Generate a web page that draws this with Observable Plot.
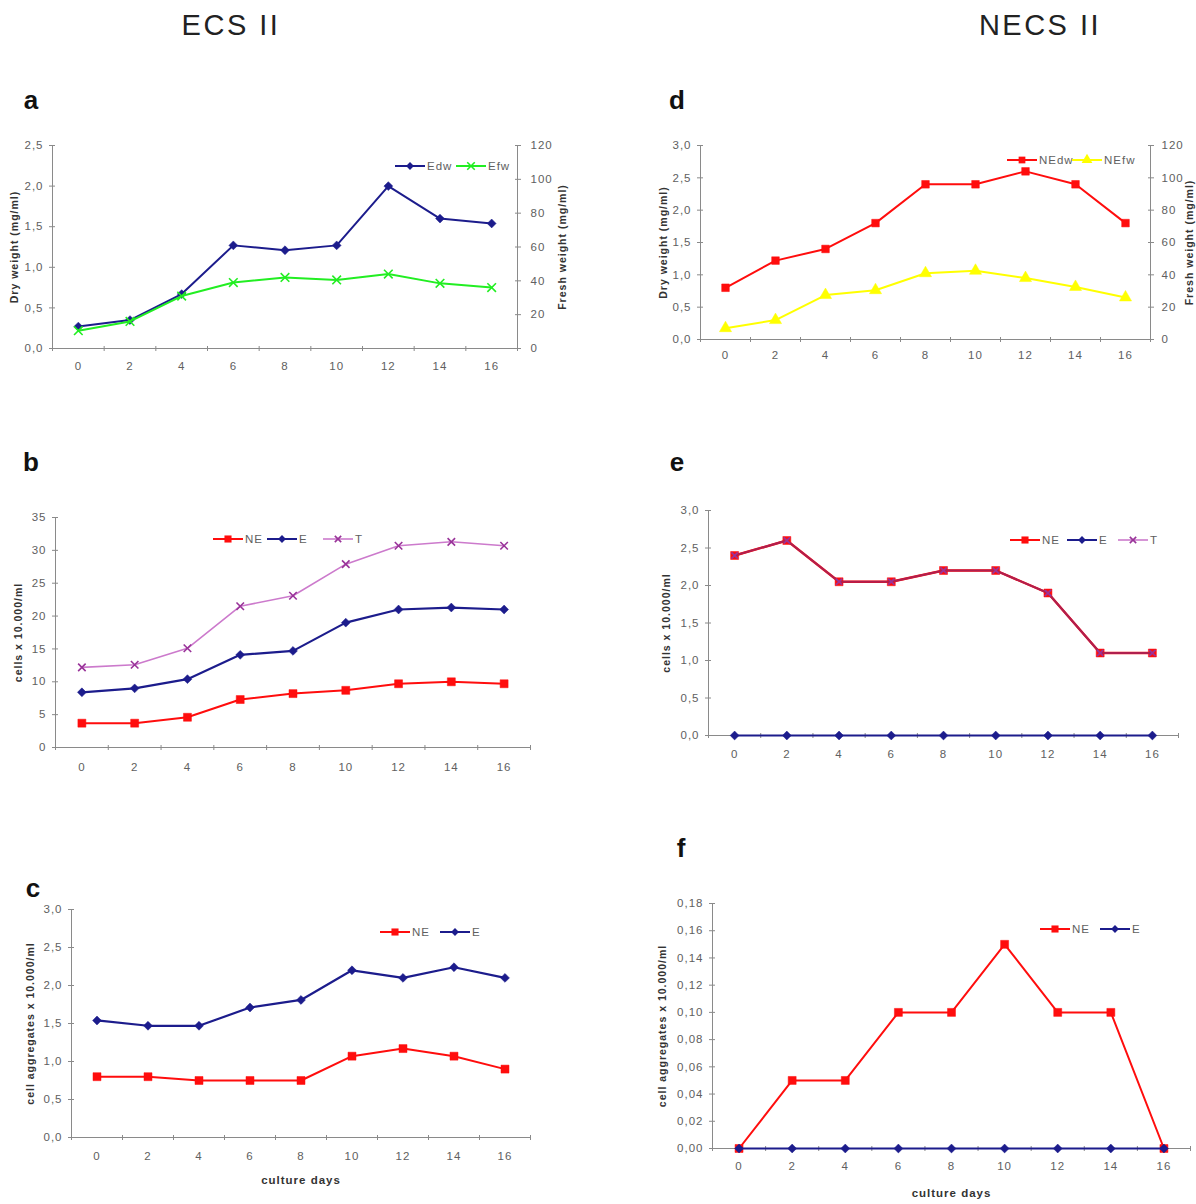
<!DOCTYPE html>
<html><head><meta charset="utf-8">
<script src="https://cdn.jsdelivr.net/npm/d3@7"></script>
<script src="https://cdn.jsdelivr.net/npm/@observablehq/plot@0.6"></script>
<style>
body{margin:0;background:#fff;}
#fig{position:relative;width:1196px;height:1204px;overflow:hidden;font-family:"Liberation Sans",Arial,sans-serif;}
.hdr{position:absolute;font-size:29px;letter-spacing:2.5px;color:#222;transform:translate(-50%,-50%);white-space:nowrap;}
.lbl{position:absolute;font-size:26px;font-weight:bold;color:#111;transform:translate(-50%,-50%);}
.pnl{position:absolute;}
.pnl svg{overflow:visible;}
.pnl text{letter-spacing:1px;}
#leg{position:absolute;left:0;top:0;}
</style></head>
<body><div id="fig"></div>
<script>
// ---------------- data ----------------
const days = [0, 2, 4, 6, 8, 10, 12, 14, 16];
const xTickMarks = [-1, 1, 3, 5, 7, 9, 11, 13, 15, 17];

// a: ECS II dry / fresh weight
const a_Edw = [0.27, 0.35, 0.67, 1.27, 1.21, 1.27, 2.0, 1.6, 1.54];
const a_Efw = [10.5, 16, 31, 39, 42, 40.5, 44, 38.5, 36];
// d: NECS II dry / fresh weight
const d_NEdw = [0.8, 1.22, 1.4, 1.8, 2.4, 2.4, 2.6, 2.4, 1.8];
const d_NEfw = [7, 12, 27.5, 30.5, 41, 42.5, 38, 32.5, 26];
// b: ECS II cells
const b_NE = [3.7, 3.7, 4.6, 7.3, 8.2, 8.7, 9.7, 10.0, 9.7];
const b_E = [8.4, 9.0, 10.4, 14.1, 14.7, 19.0, 21.0, 21.3, 21.0];
const b_T = [12.2, 12.6, 15.1, 21.5, 23.1, 27.9, 30.7, 31.3, 30.7];
// e: NECS II cells
const e_NE = [2.4, 2.6, 2.05, 2.05, 2.2, 2.2, 1.9, 1.1, 1.1];
const e_E = [0, 0, 0, 0, 0, 0, 0, 0, 0];
const e_T = [2.4, 2.6, 2.05, 2.05, 2.2, 2.2, 1.9, 1.1, 1.1];
// c: ECS II cell aggregates
const c_NE = [0.8, 0.8, 0.75, 0.75, 0.75, 1.07, 1.17, 1.07, 0.9];
const c_E = [1.54, 1.47, 1.47, 1.71, 1.81, 2.2, 2.1, 2.24, 2.1];
// f: NECS II cell aggregates
const f_NE = [0, 0.05, 0.05, 0.10, 0.10, 0.15, 0.10, 0.10, 0];
const f_E = [0, 0, 0, 0, 0, 0, 0, 0, 0];

// tick values
const ticks25 = [0, 0.5, 1.0, 1.5, 2.0, 2.5];
const ticks30 = [0, 0.5, 1.0, 1.5, 2.0, 2.5, 3.0];
const ticks35 = [0, 5, 10, 15, 20, 25, 30, 35];
const ticks018 = [0, 0.02, 0.04, 0.06, 0.08, 0.10, 0.12, 0.14, 0.16, 0.18];
const ticks120 = [0, 20, 40, 60, 80, 100, 120];

// ---------------- styles ----------------
const NAVY = "#1c1c8c", RED = "#ff0d0d", GREEN = "#22ee22", YELLOW = "#ffff00";
const PURPLE_L = "#cc7acc", PURPLE = "#993399", CRIMSON = "#b01f4e";
const AX = "#8a8a8a", TXT = "#606060", TTL = "#333";
const TICK_FS = 11.5, TITLE_FS = 10.5;
const f1 = d => d3.format(".1f")(d).replace(".", ",");
const f2 = d => d3.format(".2f")(d).replace(".", ",");
const fi = d => String(Math.round(d));
const blank = () => "";

const fig = document.getElementById("fig");

function addDiv(cls, text, x, y) {
  const el = document.createElement("div");
  el.className = cls; el.textContent = text;
  el.style.left = x + "px"; el.style.top = y + "px";
  fig.appendChild(el);
}

function panel(cfg) {
  const [bx, by, bw, bh] = cfg.box;
  const [fx0, fy0, fx1, fy1] = cfg.frame;
  const y0 = cfg.y.domain[0];
  const marks = [
    Plot.ruleY([y0], {stroke: AX}),
    Plot.ruleX([-1], {stroke: AX}),
    Plot.axisX(xTickMarks, {tickSize: 5, dy: -2, stroke: AX, tickFormat: blank, label: null}),
    Plot.axisX(days, {tickSize: 0, tickPadding: cfg.xPad, fill: TXT, fontSize: TICK_FS, label: null}),
    Plot.axisY(cfg.y.ticks, {tickSize: 6, dx: 3, stroke: AX, tickFormat: blank, label: null}),
    Plot.axisY(cfg.y.ticks, {tickSize: 0, tickPadding: 9, tickFormat: cfg.y.fmt, fill: TXT, fontSize: TICK_FS, label: null}),
    Plot.text([cfg.y.label], {frameAnchor: "left", textAnchor: "middle", rotate: -90, dx: cfg.y.titleX - fx0, fontWeight: "bold", fontSize: TITLE_FS, fill: TTL})
  ];
  if (cfg.right) {
    const r = cfg.right;
    const rt = r.ticks.map(v => v / r.factor);
    marks.push(
      Plot.ruleX([17], {stroke: AX}),
      Plot.axisY(rt, {anchor: "right", tickSize: 6, dx: -3, stroke: AX, tickFormat: blank, label: null}),
      Plot.axisY(rt, {anchor: "right", tickSize: 0, tickPadding: r.pad, tickFormat: d => fi(d * r.factor), fill: TXT, fontSize: TICK_FS, label: null}),
      Plot.text([r.label], {frameAnchor: "right", textAnchor: "middle", rotate: -90, dx: r.titleX - fx1, fontWeight: "bold", fontSize: TITLE_FS, fill: TTL})
    );
  }
  if (cfg.xLabel) {
    marks.push(Plot.text([cfg.xLabel.text], {frameAnchor: "bottom", dy: cfg.xLabel.y - fy1, fontWeight: "bold", fontSize: 11.5, fill: TTL}));
  }
  for (const s of cfg.series) {
    const f = s.factor || 1;
    const data = days.map((d, i) => ({x: d, y: s.values[i] / f}));
    marks.push(Plot.line(data, {x: "x", y: "y", stroke: s.line, strokeWidth: s.sw}));
    if (s.symbol === "times") {
      marks.push(Plot.dot(data, {x: "x", y: "y", symbol: "times", r: s.r, stroke: s.color, strokeWidth: 1.6, fill: "none"}));
    } else {
      marks.push(Plot.dot(data, {x: "x", y: "y", symbol: s.symbol, r: s.r, fill: s.color, stroke: s.color, strokeWidth: 0.5}));
    }
  }
  const plot = Plot.plot({
    width: bw, height: bh,
    marginLeft: fx0 - bx, marginRight: bx + bw - fx1,
    marginTop: fy0 - by, marginBottom: by + bh - fy1,
    x: {domain: [-1, 17], axis: null},
    y: {domain: cfg.y.domain, axis: null},
    style: {fontFamily: '"Liberation Sans", Arial, sans-serif', background: "transparent", overflow: "visible"},
    marks
  });
  const wrap = document.createElement("div");
  wrap.className = "pnl";
  wrap.style.left = bx + "px"; wrap.style.top = by + "px";
  wrap.appendChild(plot);
  fig.appendChild(wrap);
}

// legend overlay
const legSvg = d3.select(fig).append("svg").attr("id", "leg").attr("width", 1196).attr("height", 1204);
const symMap = {square: d3.symbolSquare, diamond2: d3.symbolDiamond2, times: d3.symbolTimes, triangle: d3.symbolTriangle};
function legend(items, y) {
  for (const it of items) {
    const g = legSvg.append("g");
    g.append("line").attr("x1", it.x).attr("x2", it.x + 30).attr("y1", y).attr("y2", y)
      .attr("stroke", it.line).attr("stroke-width", it.sw);
    const size = Math.PI * it.r * it.r;
    const p = g.append("path").attr("transform", `translate(${it.x + 15},${y})`)
      .attr("d", d3.symbol().type(symMap[it.symbol]).size(size)());
    if (it.symbol === "times") p.attr("fill", "none").attr("stroke", it.color).attr("stroke-width", 1.6);
    else p.attr("fill", it.color);
    g.append("text").attr("x", it.x + 32).attr("y", y).attr("dy", "0.36em")
      .attr("font-size", 11.5).attr("fill", TXT).attr("letter-spacing", "1px")
      .attr("font-family", '"Liberation Sans", Arial, sans-serif').text(it.label);
  }
}

// ---------------- headers & letters ----------------
addDiv("hdr", "ECS II", 231, 25);
addDiv("hdr", "NECS II", 1040, 25);
addDiv("lbl", "a", 31, 100);
addDiv("lbl", "b", 31, 462);
addDiv("lbl", "c", 33, 888);
addDiv("lbl", "d", 677, 100);
addDiv("lbl", "e", 677, 462);
addDiv("lbl", "f", 681, 848);

// ---------------- panels ----------------
panel({
  box: [0, 120, 600, 280], frame: [52, 145, 517, 348], xPad: 13,
  y: {domain: [0, 2.5], ticks: ticks25, fmt: f1, label: "Dry weight (mg/ml)", titleX: 14},
  right: {factor: 48, ticks: ticks120, pad: 13, label: "Fresh weight (mg/ml)", titleX: 562},
  series: [
    {values: a_Edw, line: NAVY, color: NAVY, symbol: "diamond2", r: 4, sw: 2},
    {values: a_Efw, factor: 48, line: GREEN, color: GREEN, symbol: "times", r: 4, sw: 2}
  ]
});
legend([
  {x: 395, label: "Edw", line: NAVY, color: NAVY, symbol: "diamond2", r: 3.5, sw: 2},
  {x: 456, label: "Efw", line: GREEN, color: GREEN, symbol: "times", r: 3.5, sw: 2}
], 166);

panel({
  box: [600, 120, 596, 280], frame: [700, 145, 1150, 339], xPad: 11,
  y: {domain: [0, 3], ticks: ticks30, fmt: f1, label: "Dry weight (mg/ml)", titleX: 663},
  right: {factor: 40, ticks: ticks120, pad: 11, label: "Fresh weight (mg/ml)", titleX: 1189},
  series: [
    {values: d_NEdw, line: RED, color: RED, symbol: "square", r: 4.3, sw: 2},
    {values: d_NEfw, factor: 40, line: YELLOW, color: YELLOW, symbol: "triangle", r: 4.5, sw: 2}
  ]
});
legend([
  {x: 1007, label: "NEdw", line: RED, color: RED, symbol: "square", r: 3.8, sw: 2},
  {x: 1072, label: "NEfw", line: YELLOW, color: YELLOW, symbol: "triangle", r: 4, sw: 2}
], 160);

panel({
  box: [0, 480, 600, 300], frame: [55, 517, 530, 747], xPad: 15,
  y: {domain: [0, 35], ticks: ticks35, fmt: fi, label: "cells x 10.000/ml", titleX: 18},
  series: [
    {values: b_NE, line: RED, color: RED, symbol: "square", r: 4.5, sw: 2},
    {values: b_E, line: NAVY, color: NAVY, symbol: "diamond2", r: 4, sw: 2.2},
    {values: b_T, line: PURPLE_L, color: PURPLE, symbol: "times", r: 3.5, sw: 1.6}
  ]
});
legend([
  {x: 213, label: "NE", line: RED, color: RED, symbol: "square", r: 4, sw: 2},
  {x: 267, label: "E", line: NAVY, color: NAVY, symbol: "diamond2", r: 3.5, sw: 2},
  {x: 323, label: "T", line: PURPLE_L, color: PURPLE, symbol: "times", r: 3, sw: 1.6}
], 539);

panel({
  box: [600, 480, 596, 300], frame: [708, 510, 1178, 735], xPad: 14,
  y: {domain: [0, 3], ticks: ticks30, fmt: f1, label: "cells x 10.000/ml", titleX: 666},
  series: [
    {values: e_NE, line: RED, color: RED, symbol: "square", r: 4.5, sw: 2.4},
    {values: e_E, line: NAVY, color: NAVY, symbol: "diamond2", r: 4, sw: 2.2},
    {values: e_T, line: CRIMSON, color: PURPLE, symbol: "times", r: 3, sw: 2}
  ]
});
legend([
  {x: 1010, label: "NE", line: RED, color: RED, symbol: "square", r: 4, sw: 2},
  {x: 1067, label: "E", line: NAVY, color: NAVY, symbol: "diamond2", r: 3.5, sw: 2},
  {x: 1118, label: "T", line: PURPLE_L, color: PURPLE, symbol: "times", r: 3, sw: 1.6}
], 540);

panel({
  box: [0, 880, 600, 324], frame: [71, 909, 530, 1137], xPad: 14,
  y: {domain: [0, 3], ticks: ticks30, fmt: f1, label: "cell aggregates x 10.000/ml", titleX: 30},
  xLabel: {text: "culture days", y: 1183},
  series: [
    {values: c_NE, line: RED, color: RED, symbol: "square", r: 4.5, sw: 2},
    {values: c_E, line: NAVY, color: NAVY, symbol: "diamond2", r: 4, sw: 2.2}
  ]
});
legend([
  {x: 380, label: "NE", line: RED, color: RED, symbol: "square", r: 4, sw: 2},
  {x: 440, label: "E", line: NAVY, color: NAVY, symbol: "diamond2", r: 3.5, sw: 2}
], 932);

panel({
  box: [600, 880, 596, 324], frame: [712, 903, 1190, 1148], xPad: 13,
  y: {domain: [0, 0.18], ticks: ticks018, fmt: f2, label: "cell aggregates x 10.000/ml", titleX: 662},
  xLabel: {text: "culture days", y: 1196},
  series: [
    {values: f_NE, line: RED, color: RED, symbol: "square", r: 4.5, sw: 2},
    {values: f_E, line: NAVY, color: NAVY, symbol: "diamond2", r: 4, sw: 2}
  ]
});
legend([
  {x: 1040, label: "NE", line: RED, color: RED, symbol: "square", r: 4, sw: 2},
  {x: 1100, label: "E", line: NAVY, color: NAVY, symbol: "diamond2", r: 3.5, sw: 2}
], 929);
</script>
</body></html>
